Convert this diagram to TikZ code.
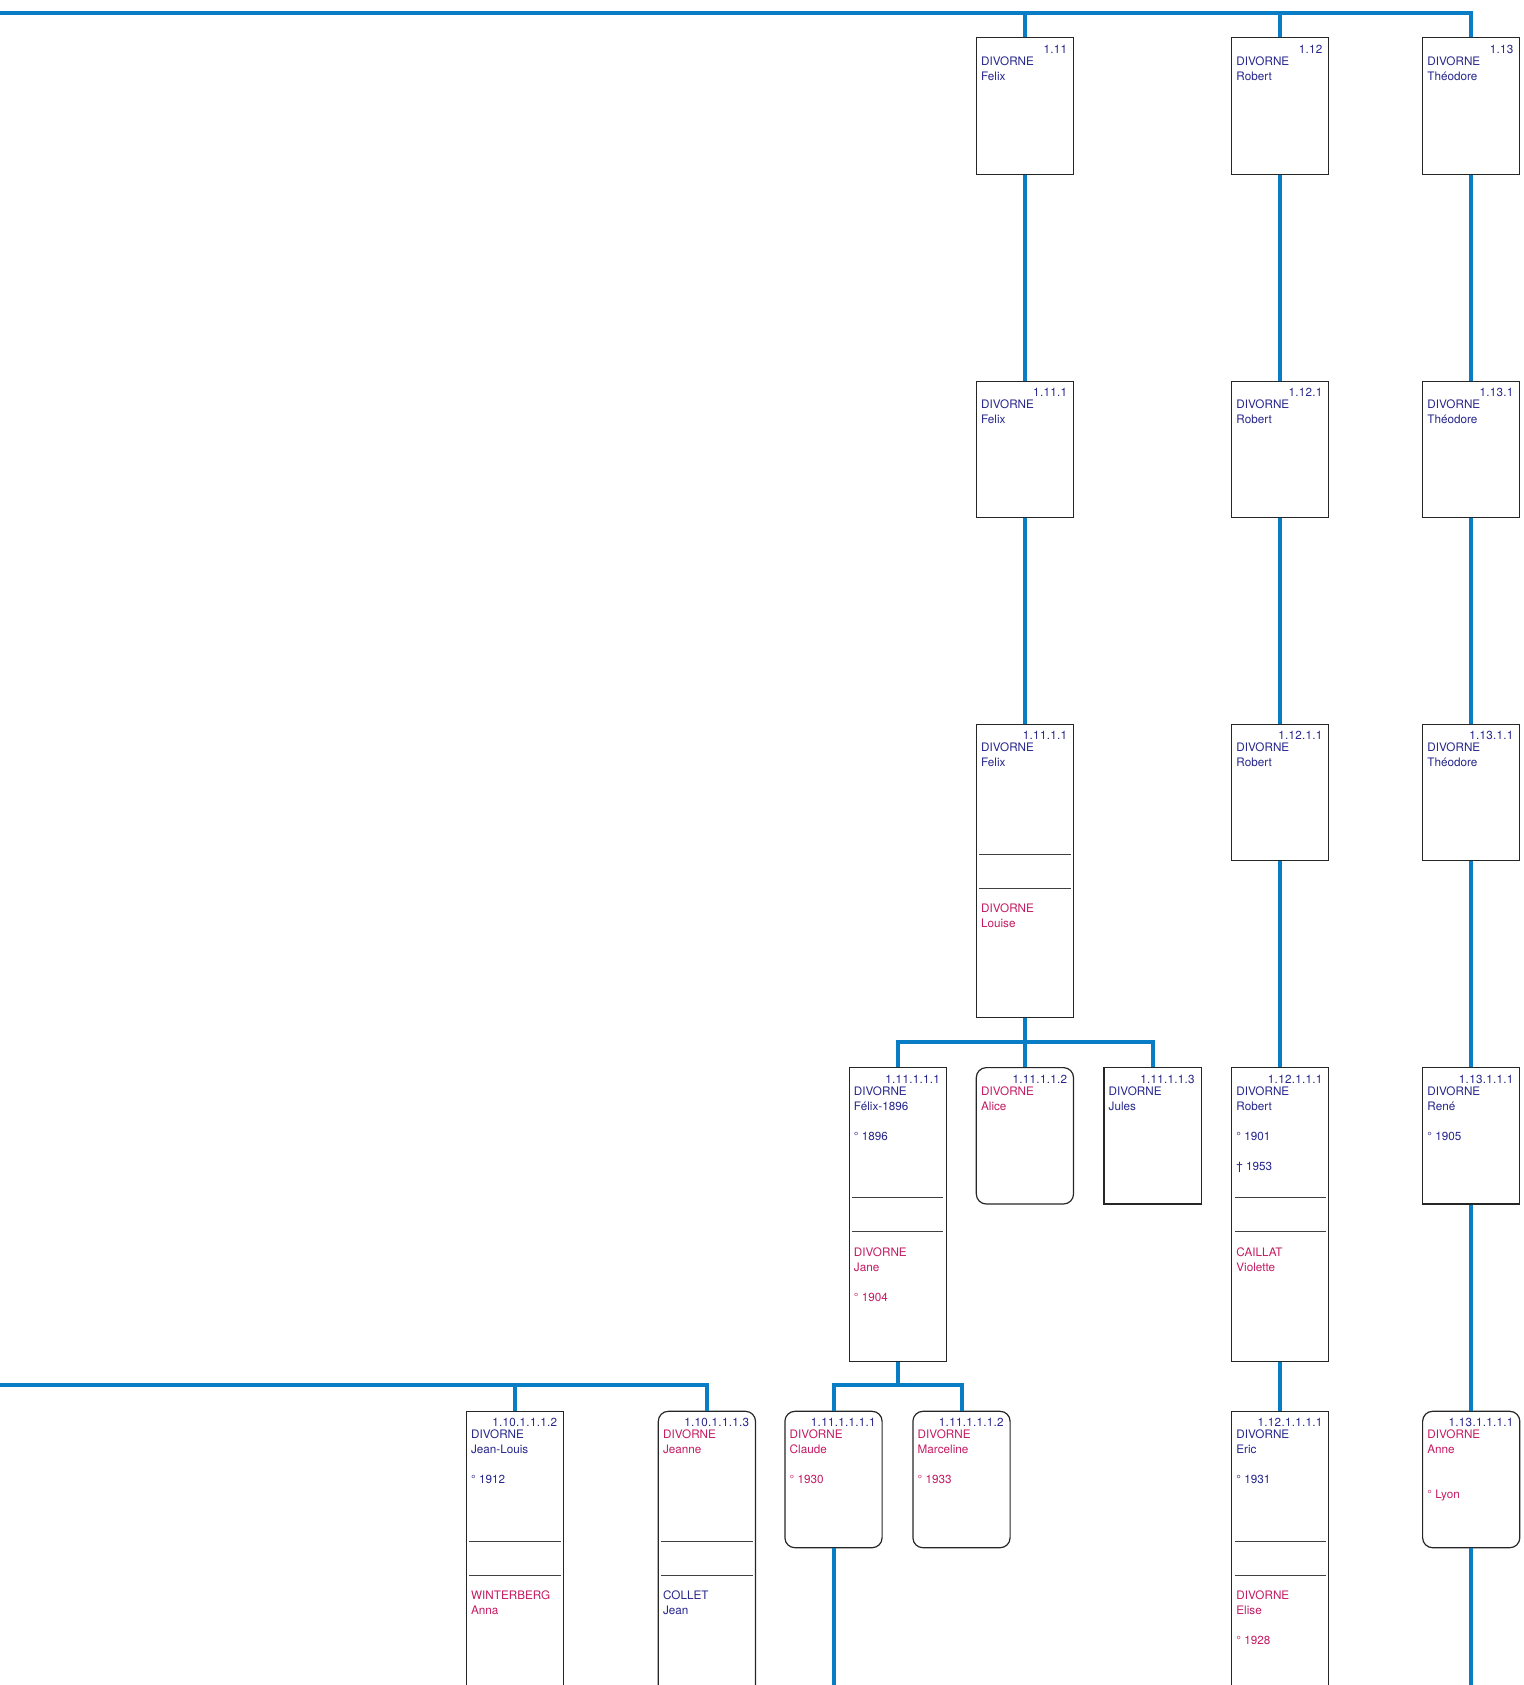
\documentclass[tikz,border=0pt]{standalone}
\usepackage{fontspec}
\setmainfont{TeX Gyre Heros}
\definecolor{lienbleu}{RGB}{8,124,196}
\definecolor{homme}{RGB}{38,38,140}
\definecolor{femme}{RGB}{196,26,98}

% lines of text in a box: box, colour, offset of first baseline, lines
\newcommand{\lignes}[4]{%
  \foreach \ligne [count=\i] in {#4}
    \node[txt, text=#2] at ([xshift=2.5pt, yshift={-(#3+7.5*\i)*1pt}]#1.north west) {\ligne};}
\newcommand{\numero}[2]{\node[num] at ([xshift=-3.3pt, yshift=-8pt]#1.north east) {#2};}
\newcommand{\separe}[1]{%
  \draw[sep] ([xshift=1.75pt, yshift=-65.2pt]#1.north west) -- ([xshift=-1.75pt, yshift=-65.2pt]#1.north east);
  \draw[sep] ([xshift=1.75pt, yshift=-82.25pt]#1.north west) -- ([xshift=-1.75pt, yshift=-82.25pt]#1.north east);}

\begin{document}
\begin{tikzpicture}[x=0.5pt, y=-0.5pt,
	boite/.style={draw=black!85, line width=0.6pt, inner sep=0, anchor=north west,
		minimum width=48.6pt, minimum height=68.2pt},
	longue/.style={boite, minimum height=146.8pt},
	ronde/.style={rounded corners=5pt},
	lien/.style={draw=lienbleu, line width=2pt},
	sep/.style={draw=black!75, line width=0.5pt},
	txt/.style={font=\fontsize{5.85pt}{7.5pt}\selectfont, inner sep=0, anchor=base west},
	num/.style={txt, anchor=base east, text=homme,
		font=\fontsize{5.85pt}{7.5pt}\selectfont\addfontfeature{LetterSpace=2.3}}]
		\useasboundingbox (0,0) rectangle (1524,1685);
		\clip (0,0) rectangle (1524,1685);

		% generation 1
		\node[boite] (n1-11) at (975.7, 37.3) {};
		\node[boite] (n1-12) at (1231, 37.3) {};
		\node[boite] (n1-13) at (1422, 37.3) {};
		% generation 2
		\node[boite] (n1-11-1) at (975.7, 380.6) {};
		\node[boite] (n1-12-1) at (1231, 380.6) {};
		\node[boite] (n1-13-1) at (1422, 380.6) {};
		% generation 3
		\node[longue] (n1-11-1-1) at (975.7, 723.6) {};
		\node[boite] (n1-12-1-1) at (1231, 723.6) {};
		\node[boite] (n1-13-1-1) at (1422, 723.6) {};
		% generation 4
		\node[longue] (n1-11-1-1-1) at (848.5, 1067) {};
		\node[boite, ronde] (n1-11-1-1-2) at (975.7, 1067) {};
		\node[boite] (n1-11-1-1-3) at (1103.3, 1067) {};
		\node[longue] (n1-12-1-1-1) at (1231, 1067) {};
		\node[boite] (n1-13-1-1-1) at (1422, 1067) {};
		% generation 5
		\node[longue] (n1-10-1-1-1-2) at (465.7, 1410.7) {};
		\node[longue, ronde] (n1-10-1-1-1-3) at (657.7, 1410.7) {};
		\node[boite, ronde] (n1-11-1-1-1-1) at (784.3, 1410.7) {};
		\node[boite, ronde] (n1-11-1-1-1-2) at (912.3, 1410.7) {};
		\node[longue] (n1-12-1-1-1-1) at (1231, 1410.7) {};
		\node[boite, ronde] (n1-13-1-1-1-1) at (1422, 1410.7) {};

		\coordinate (haut) at (0, 13.3);
		\coordinate (bus4) at (0, 1041.8);
		\coordinate (bus5) at (0, 1385);
		\coordinate (bas) at (0, 1700);

		\draw[lien] (haut) -| (n1-13.north);
		\draw[lien] (n1-11.north) -- (n1-11.north |- haut);
		\draw[lien] (n1-12.north) -- (n1-12.north |- haut);
		\draw[lien] (n1-11.south) -- (n1-11-1.north);
		\draw[lien] (n1-12.south) -- (n1-12-1.north);
		\draw[lien] (n1-13.south) -- (n1-13-1.north);
		\draw[lien] (n1-11-1.south) -- (n1-11-1-1.north);
		\draw[lien] (n1-12-1.south) -- (n1-12-1-1.north);
		\draw[lien] (n1-13-1.south) -- (n1-13-1-1.north);
		\draw[lien] (n1-11-1-1-1.north) -- (n1-11-1-1-1.north |- bus4) -| (n1-11-1-1-3.north);
		\draw[lien] (n1-11-1-1.south) -- (n1-11-1-1-2.north);
		\draw[lien] (n1-12-1-1.south) -- (n1-12-1-1-1.north);
		\draw[lien] (n1-13-1-1.south) -- (n1-13-1-1-1.north);
		\draw[lien] (n1-11-1-1-1-1.north) -- (n1-11-1-1-1-1.north |- bus5) -| (n1-11-1-1-1-2.north);
		\draw[lien] (n1-11-1-1-1.south) -- (n1-11-1-1-1.south |- bus5);
		\draw[lien] (bus5) -| (n1-10-1-1-1-3.north);
		\draw[lien] (n1-10-1-1-1-2.north) -- (n1-10-1-1-1-2.north |- bus5);
		\draw[lien] (n1-12-1-1-1.south) -- (n1-12-1-1-1-1.north);
		\draw[lien] (n1-13-1-1-1.south) -- (n1-13-1-1-1-1.north);
		\draw[lien] (n1-11-1-1-1-1.south) -- (n1-11-1-1-1-1.south |- bas);
		\draw[lien] (n1-13-1-1-1-1.south) -- (n1-13-1-1-1-1.south |- bas);

		% texts
		\numero{n1-11}{1.11}
		\lignes{n1-11}{homme}{6.5}{DIVORNE, Felix}
		\numero{n1-12}{1.12}
		\lignes{n1-12}{homme}{6.5}{DIVORNE, Robert}
		\numero{n1-13}{1.13}
		\lignes{n1-13}{homme}{6.5}{DIVORNE, Théodore}

		\numero{n1-11-1}{1.11.1}
		\lignes{n1-11-1}{homme}{6.5}{DIVORNE, Felix}
		\numero{n1-12-1}{1.12.1}
		\lignes{n1-12-1}{homme}{6.5}{DIVORNE, Robert}
		\numero{n1-13-1}{1.13.1}
		\lignes{n1-13-1}{homme}{6.5}{DIVORNE, Théodore}

		\numero{n1-11-1-1}{1.11.1.1}
		\lignes{n1-11-1-1}{homme}{6.5}{DIVORNE, Felix}
		\separe{n1-11-1-1}
		\lignes{n1-11-1-1}{femme}{87}{DIVORNE, Louise}
		\numero{n1-12-1-1}{1.12.1.1}
		\lignes{n1-12-1-1}{homme}{6.5}{DIVORNE, Robert}
		\numero{n1-13-1-1}{1.13.1.1}
		\lignes{n1-13-1-1}{homme}{6.5}{DIVORNE, Théodore}

		\numero{n1-11-1-1-1}{1.11.1.1.1}
		\lignes{n1-11-1-1-1}{homme}{6.5}{DIVORNE, Félix-1896, {}, ° 1896}
		\separe{n1-11-1-1-1}
		\lignes{n1-11-1-1-1}{femme}{87}{DIVORNE, Jane, {}, ° 1904}
		\numero{n1-11-1-1-2}{1.11.1.1.2}
		\lignes{n1-11-1-1-2}{femme}{6.5}{DIVORNE, Alice}
		\numero{n1-11-1-1-3}{1.11.1.1.3}
		\lignes{n1-11-1-1-3}{homme}{6.5}{DIVORNE, Jules}
		\numero{n1-12-1-1-1}{1.12.1.1.1}
		\lignes{n1-12-1-1-1}{homme}{6.5}{DIVORNE, Robert, {}, ° 1901, {}, † 1953}
		\separe{n1-12-1-1-1}
		\lignes{n1-12-1-1-1}{femme}{87}{CAILLAT, Violette}
		\numero{n1-13-1-1-1}{1.13.1.1.1}
		\lignes{n1-13-1-1-1}{homme}{6.5}{DIVORNE, René, {}, ° 1905}

		\numero{n1-10-1-1-1-2}{1.10.1.1.1.2}
		\lignes{n1-10-1-1-1-2}{homme}{6.5}{DIVORNE, Jean-Louis, {}, ° 1912}
		\separe{n1-10-1-1-1-2}
		\lignes{n1-10-1-1-1-2}{femme}{87}{WINTERBERG, Anna}
		\numero{n1-10-1-1-1-3}{1.10.1.1.1.3}
		\lignes{n1-10-1-1-1-3}{femme}{6.5}{DIVORNE, Jeanne}
		\separe{n1-10-1-1-1-3}
		\lignes{n1-10-1-1-1-3}{homme}{87}{COLLET, Jean}
		\numero{n1-11-1-1-1-1}{1.11.1.1.1.1}
		\lignes{n1-11-1-1-1-1}{femme}{6.5}{DIVORNE, Claude, {}, ° 1930}
		\numero{n1-11-1-1-1-2}{1.11.1.1.1.2}
		\lignes{n1-11-1-1-1-2}{femme}{6.5}{DIVORNE, Marceline, {}, ° 1933}
		\numero{n1-12-1-1-1-1}{1.12.1.1.1.1}
		\lignes{n1-12-1-1-1-1}{homme}{6.5}{DIVORNE, Eric, {}, ° 1931}
		\separe{n1-12-1-1-1-1}
		\lignes{n1-12-1-1-1-1}{femme}{87}{DIVORNE, Elise, {}, ° 1928}
		\numero{n1-13-1-1-1-1}{1.13.1.1.1.1}
		\lignes{n1-13-1-1-1-1}{femme}{6.5}{DIVORNE, Anne, {}, {}, ° Lyon}
	\end{tikzpicture}
\end{document}
